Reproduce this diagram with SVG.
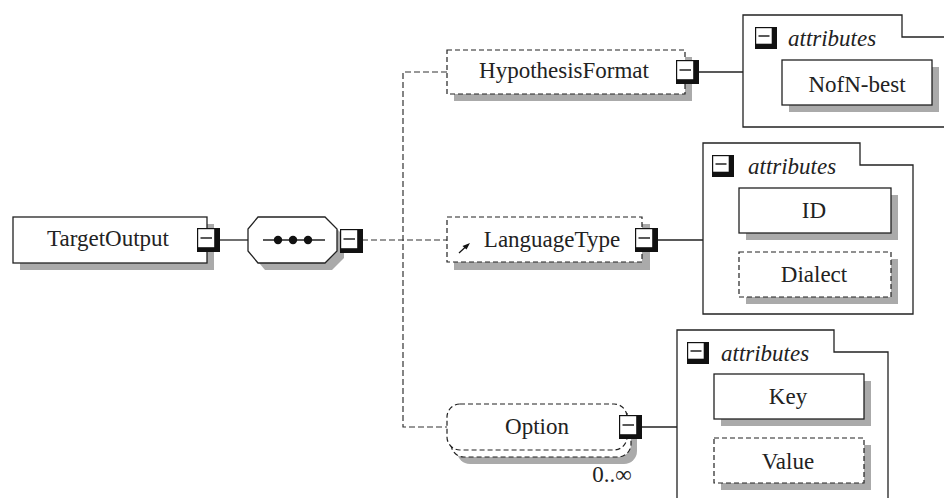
<svg xmlns="http://www.w3.org/2000/svg" width="944" height="498" viewBox="0 0 944 498">
  <defs>
    <style>
      .lbl { font-family: "Liberation Serif", "Times New Roman", serif; font-size: 23px; fill: #222; text-anchor: middle; }
      .att { font-family: "Liberation Serif", "Times New Roman", serif; font-size: 23px; font-style: italic; fill: #222; }
      .box { fill: #fff; stroke: #222; stroke-width: 1.3; }
      .opt { fill: #fff; stroke: #222; stroke-width: 1.2; stroke-dasharray: 5 3; }
      .shd { fill: #aaa; stroke: none; }
      .wire { fill: none; stroke: #222; stroke-width: 1.3; }
      .dash { fill: none; stroke: #333; stroke-width: 1.2; stroke-dasharray: 6 3; }
      .frame { fill: #fff; stroke: #222; stroke-width: 1.3; }
      .minus { stroke: #222; stroke-width: 1.5; }
    </style>
    <!-- collapse button: black square with white face and a minus sign -->
    <g id="btn">
      <rect x="0" y="0" width="23" height="24" fill="#111"/>
      <rect x="1.2" y="1.2" width="16" height="18" fill="#fff"/>
      <line x1="3.5" y1="10" x2="15" y2="10" class="minus"/>
    </g>
    <g id="icon">
      <rect x="0" y="0" width="22" height="22" fill="#111"/>
      <rect x="1.2" y="1.2" width="15.5" height="15.5" fill="#fff"/>
      <line x1="3.5" y1="9" x2="14.5" y2="9" class="minus"/>
    </g>
  </defs>

  <rect width="944" height="498" fill="#fff"/>

  <!-- connectors -->
  <g id="connectors">
    <line x1="219" y1="240" x2="248" y2="240" class="wire"/>
    <line x1="362" y1="240" x2="447" y2="240" class="dash"/>
    <polyline points="447,72 403,72 403,427 447,427" class="dash"/>
    <line x1="699" y1="72" x2="743" y2="72" class="wire"/>
    <line x1="658" y1="240" x2="703" y2="240" class="wire"/>
    <line x1="642" y1="427" x2="677" y2="427" class="wire"/>
  </g>

  <!-- root element -->
  <g id="TargetOutput">
    <rect x="20" y="224" width="194" height="46" class="shd"/>
    <rect x="13" y="217" width="194" height="46" class="box"/>
    <text x="108" y="246" class="lbl">TargetOutput</text>
    <use href="#btn" x="197" y="228"/>
  </g>

  <!-- sequence compositor -->
  <g id="sequence">
    <polygon points="265,224 332,224 344,236 344,258 332,270 265,270 255,258 255,236" class="shd"/>
    <polygon points="258,217 325,217 337,229 337,251 325,263 258,263 248,251 248,229" class="box"/>
    <line x1="263" y1="240" x2="325" y2="240" class="wire"/>
    <circle cx="278" cy="240" r="4.2" fill="#111"/>
    <circle cx="293" cy="240" r="4.2" fill="#111"/>
    <circle cx="308" cy="240" r="4.2" fill="#111"/>
    <use href="#btn" x="340" y="229"/>
  </g>

  <!-- optional element HypothesisFormat -->
  <g id="HypothesisFormat">
    <rect x="454" y="57" width="238" height="44" class="shd"/>
    <rect x="447" y="50" width="238" height="44" class="opt"/>
    <text x="564" y="78" class="lbl">HypothesisFormat</text>
    <use href="#btn" x="676" y="60"/>
  </g>

  <g id="HypothesisFormat-attributes">
    <path d="M950,127 H743 V15 H902 V37 H950" class="frame"/>
    <use href="#icon" x="755" y="27"/>
    <text x="788" y="46" class="att">attributes</text>
    <g id="NofN-best">
      <rect x="789" y="67" width="150" height="45" class="shd"/>
      <rect x="782" y="60" width="150" height="45" class="box"/>
      <text x="857" y="92" class="lbl">NofN-best</text>
    </g>
  </g>

  <!-- optional element LanguageType (typed reference) -->
  <g id="LanguageType">
    <rect x="454" y="224" width="196" height="46" class="shd"/>
    <rect x="447" y="217" width="195" height="45" class="opt"/>
    <line x1="459" y1="253" x2="466" y2="246.5" stroke="#111" stroke-width="1.2"/>
    <polygon points="470,243 462.5,246 466.5,249.5" fill="#111"/>
    <text x="552" y="247" class="lbl">LanguageType</text>
    <use href="#btn" x="635" y="228"/>
  </g>

  <g id="LanguageType-attributes">
    <path d="M703,314 V143 H860 V165 H913 V314 Z" class="frame"/>
    <use href="#icon" x="712" y="155"/>
    <text x="748" y="174" class="att">attributes</text>
    <g id="ID">
      <rect x="746" y="195" width="152" height="45" class="shd"/>
      <rect x="739" y="188" width="152" height="45" class="box"/>
      <text x="814" y="218" class="lbl">ID</text>
    </g>
    <g id="Dialect">
      <rect x="746" y="259" width="152" height="45" class="shd"/>
      <rect x="739" y="252" width="152" height="45" class="opt"/>
      <text x="814" y="282" class="lbl">Dialect</text>
    </g>
  </g>

  <!-- repeating optional element Option -->
  <g id="Option">
    <rect x="457" y="418" width="180" height="46" rx="13" class="shd"/>
    <rect x="451" y="410" width="180" height="47" rx="13" class="opt"/>
    <rect x="447" y="404" width="180" height="46" rx="13" class="opt"/>
    <text x="537" y="434" class="lbl">Option</text>
    <use href="#btn" x="619" y="415"/>
    <text x="612" y="482" class="lbl">0..∞</text>
  </g>

  <g id="Option-attributes">
    <path d="M677,500 V330 H834 V352 H888 V500" class="frame"/>
    <use href="#icon" x="687" y="342"/>
    <text x="721" y="361" class="att">attributes</text>
    <g id="Key">
      <rect x="721" y="381" width="150" height="45" class="shd"/>
      <rect x="714" y="374" width="150" height="45" class="box"/>
      <text x="788" y="404" class="lbl">Key</text>
    </g>
    <g id="Value">
      <rect x="721" y="445" width="150" height="45" class="shd"/>
      <rect x="714" y="438" width="150" height="45" class="opt"/>
      <text x="788" y="469" class="lbl">Value</text>
    </g>
  </g>
</svg>
